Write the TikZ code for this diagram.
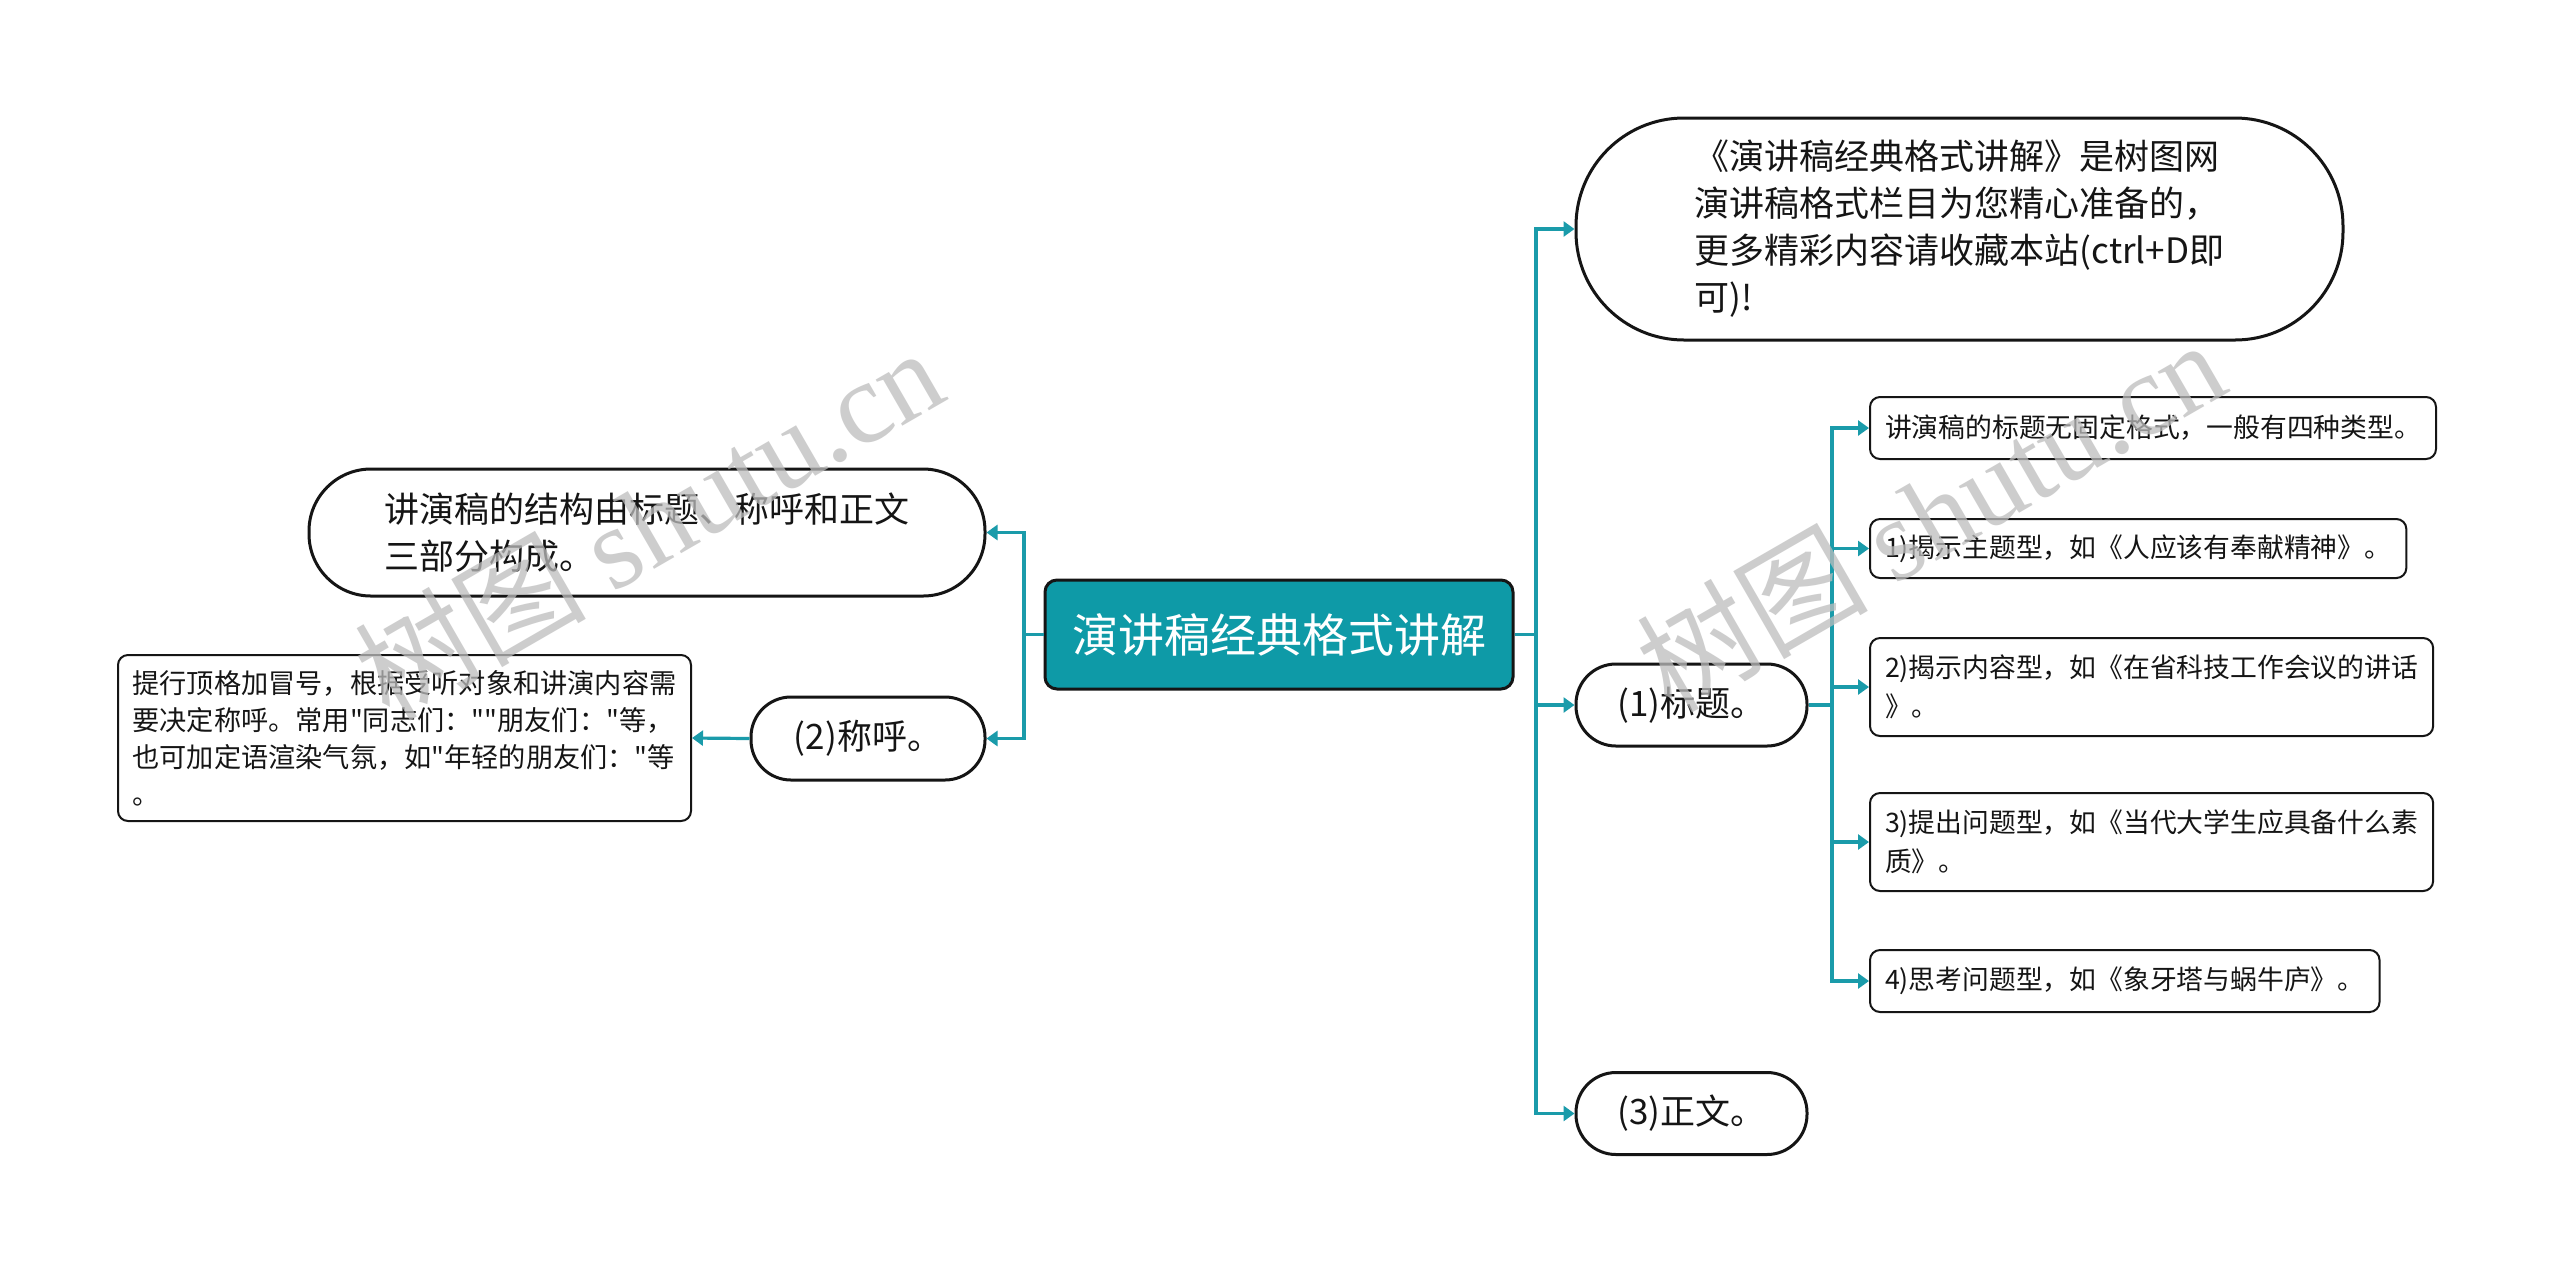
\documentclass[tikz,border=0pt]{standalone}
\usepackage{fontspec}
\setmainfont{Noto Sans CJK SC}[Ligatures=TeXOff]
\newfontfamily\wmlatin{Liberation Serif}
\usepackage{tikz}
\usepackage{xcolor}
\usetikzlibrary{arrows.meta,positioning}
\definecolor{ink}{HTML}{151515}
\definecolor{rootfill}{HTML}{0E9AA7}
\definecolor{linkteal}{HTML}{1A9BAA}
\definecolor{wmgray}{HTML}{BDBDBD}
\tikzset{
  rootbox/.style={draw=ink,fill=rootfill,line width=1.5pt,rounded corners=6pt,
                  minimum width=234pt,minimum height=54.5pt,inner sep=0pt,
                  text=white,font=\fontsize{23}{28}\selectfont},
  pillbox/.style={draw=ink,fill=white,line width=1.5pt,align=left,inner sep=0pt,
                  text=ink,font=\fontsize{17.5}{23.5}\selectfont},
  notebox/.style={draw=ink,fill=white,line width=1pt,rounded corners=5pt,
                  align=left,inner xsep=7.5pt,inner ysep=0pt,
                  text=ink,font=\fontsize{13.4}{19.5}\selectfont},
  link/.style={draw=linkteal,line width=1.6pt,
               -{Triangle[length=5.5pt,width=7.5pt]}},
  wmark/.style={rotate=30,text=wmgray,text opacity=0.75,inner sep=0pt,
                font=\fontsize{58}{66}\selectfont}
}
\begin{document}
\begin{tikzpicture}[x=0.5pt,y=-0.5pt]
  \useasboundingbox[fill=white] (0,0) rectangle (2560,1271);
  % centre and first level
  \node[rootbox] (root) at (1279,634.5) {演讲稿经典格式讲解};
  \node[pillbox,rounded corners=54pt,minimum width=383.5pt,minimum height=111pt] (info) at (1959.5,229)
    {《演讲稿经典格式讲解》是树图网\\演讲稿格式栏目为您精心准备的，\\更多精彩内容请收藏本站(ctrl+D即\\可)!};
  \node[pillbox,rounded corners=31pt,minimum width=338pt,minimum height=63.5pt] (struct) at (647,532.5)
    {讲演稿的结构由标题、称呼和正文\\三部分构成。};
  \node[pillbox,rounded corners=20pt,minimum width=117pt,minimum height=41.5pt] (call) at (868,738.5) {(2)称呼。};
  \node[pillbox,rounded corners=20pt,minimum width=115.5pt,minimum height=41pt] (title) at (1691.5,705) {(1)标题。};
  \node[pillbox,rounded corners=20pt,minimum width=115.5pt,minimum height=41pt] (body) at (1691.5,1113.5) {(3)正文。};
  % leaves
  \node[notebox,font=\fontsize{13.6}{18.5}\selectfont,inner xsep=6.5pt,
        minimum width=286.5pt,minimum height=83pt] (callnote) at (404.5,738)
    {提行顶格加冒号，根据受听对象和讲演内容需\\要决定称呼。常用"同志们：""朋友们："等，\\也可加定语渲染气氛，如"年轻的朋友们："等\\。};
  \node[notebox,anchor=west,minimum height=31pt] (t0) at (1869,428) {讲演稿的标题无固定格式，一般有四种类型。};
  \node[notebox,anchor=west,minimum height=29.5pt] (t1) at (1869,548.5) {1)揭示主题型，如《人应该有奉献精神》。};
  \node[notebox,anchor=west,minimum height=49pt] (t2) at (1869,687) {2)揭示内容型，如《在省科技工作会议的讲话\\》。};
  \node[notebox,anchor=west,minimum height=49pt] (t3) at (1869,842) {3)提出问题型，如《当代大学生应具备什么素\\质》。};
  \node[notebox,anchor=west,minimum height=31pt] (t4) at (1869,981) {4)思考问题型，如《象牙塔与蜗牛庐》。};
  % connectors
  \coordinate (rj) at (1536,634.5);
  \coordinate (lj) at (1024,634.5);
  \coordinate (tj) at (1832,705);
  \foreach \c in {info,title,body}
    \draw[link] (root.east) -- (rj) |- (\c.west);
  \foreach \c in {struct,call}
    \draw[link] (root.west) -- (lj) |- (\c.east);
  \foreach \c in {t0,t1,t2,t3,t4}
    \draw[link] (title.east) -- (tj) |- (\c.west);
  \draw[link] (call.west) -- (callnote.east);
  % watermark
  \node[wmark] (wm1) at (648,522) {树图 {\wmlatin shutu.cn}};
  \node[wmark] (wm2) at (1930,514) {树图 {\wmlatin shutu.cn}};
\end{tikzpicture}
\end{document}
